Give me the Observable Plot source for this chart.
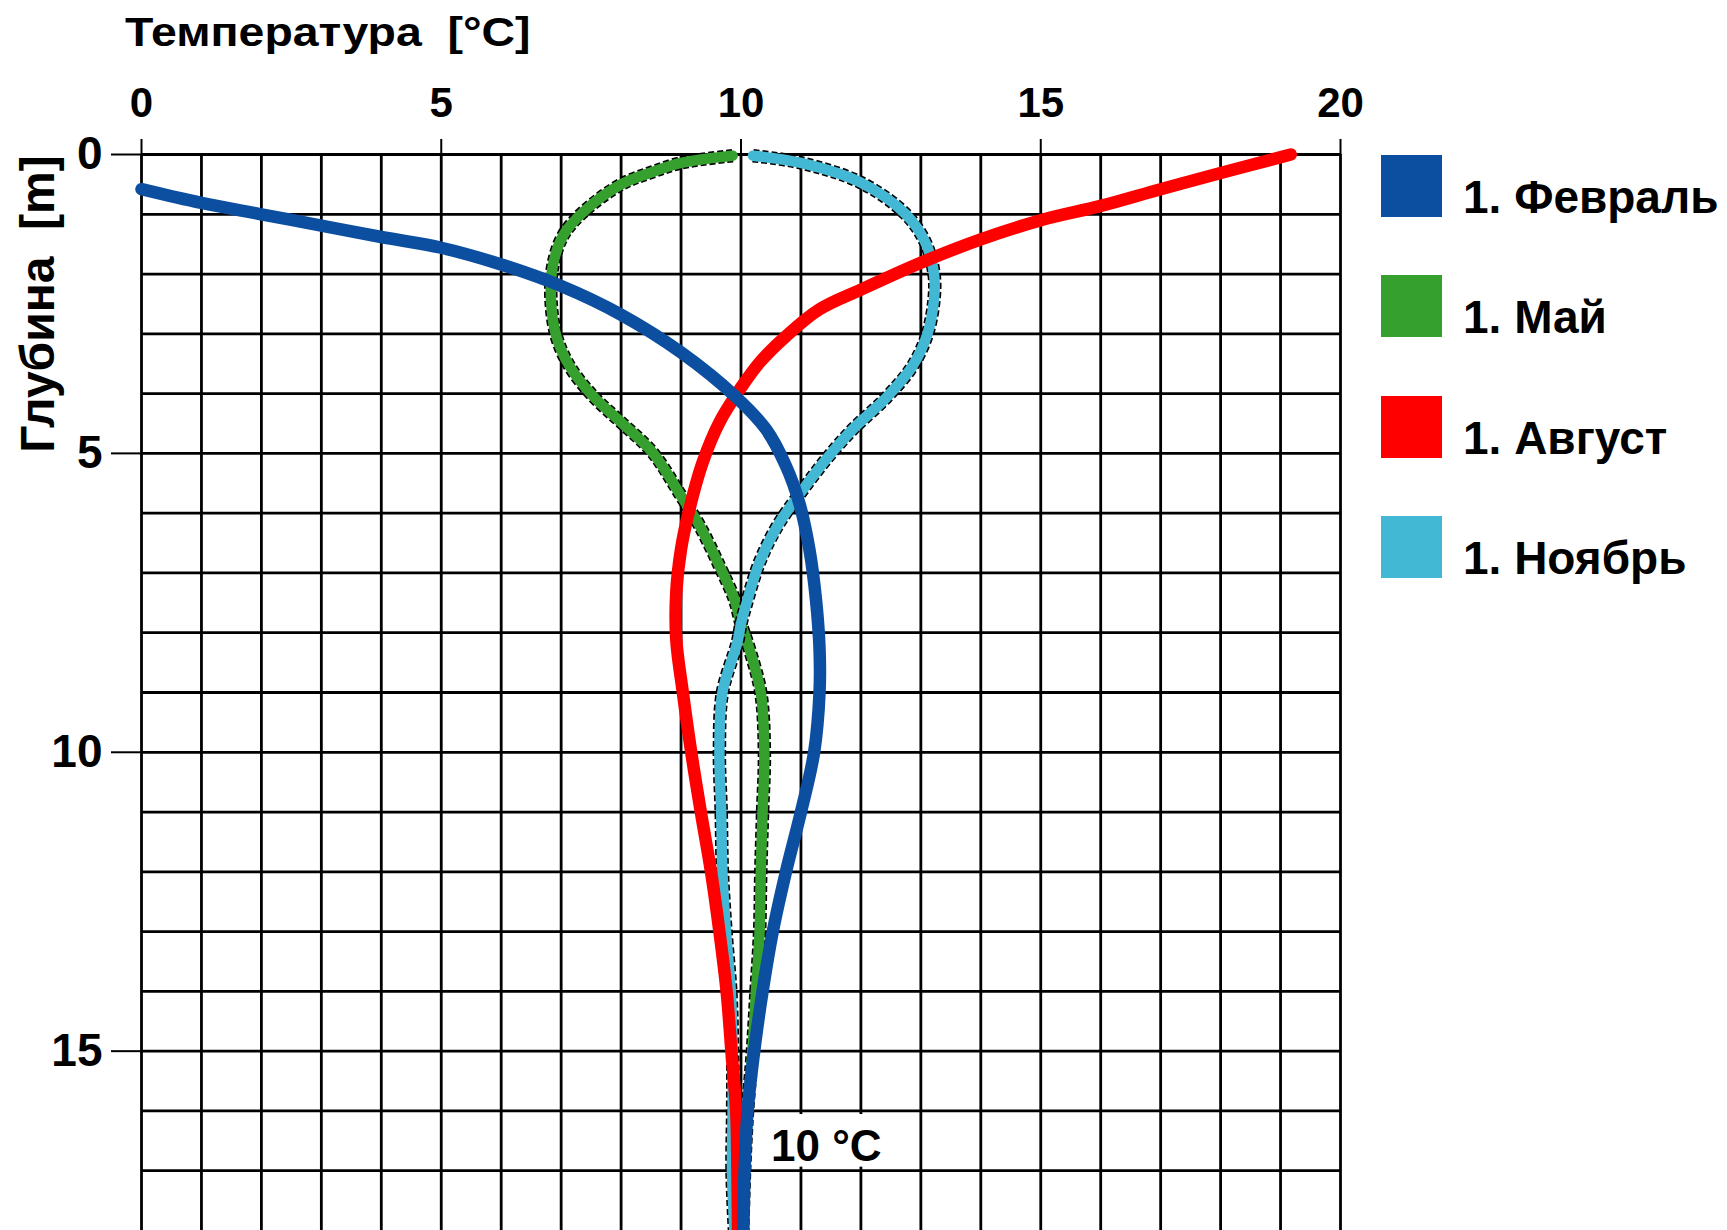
<!DOCTYPE html>
<html>
<head>
<meta charset="utf-8">
<script src="https://cdn.jsdelivr.net/npm/d3@7"></script>
<script src="https://cdn.jsdelivr.net/npm/@observablehq/plot@0.6"></script>
<style>
  html, body { margin: 0; padding: 0; background: #fff; }
  body { width: 1727px; height: 1230px; position: relative; overflow: hidden;
         font-family: "Liberation Sans", Arial, sans-serif; }
  #chart { position: absolute; left: 0; top: 0; }
  .title { position: absolute; left: 125px; top: 12px; font-size: 40px; line-height: 40px;
           font-weight: bold; white-space: pre; transform: scaleX(1.16); transform-origin: left center; }
  .ylabel { position: absolute; left: 38px; top: 304px; font-size: 48px; line-height: 48px;
            font-weight: bold; white-space: pre; transform: translate(-50%, -50%) rotate(-90deg); }
  .legend-row { position: absolute; left: 1381px; width: 340px; height: 62px; }
  .legend-row .sw { position: absolute; left: 0; top: 0; width: 61px; height: 62px; }
  .legend-row .lb { position: absolute; left: 82px; top: 19px; font-size: 46px; line-height: 46px;
                    font-weight: bold; white-space: pre; }
</style>
</head>
<body>
<div id="chart"></div>
<script>
// ---- data ----
const xTitle = "Температура  [°C]";
const yTitle = "Глубина  [m]";
const months = ["1. Февраль", "1. Май", "1. Август", "1. Ноябрь"];
const colors = ["#0c4fa0", "#36a02e", "#ff0000", "#42b8d5"];
const xTicks = [0, 5, 10, 15, 20];
const yTicks = [0, 5, 10, 15];
const noteLabel = "10 °C";

const febDepth = [0.58, 0.81, 1.0, 1.19, 1.38, 1.56, 1.84, 2.2, 2.68, 3.31, 4.06, 4.6, 5.21, 5.82, 6.6, 7.44, 8.27, 9.0, 10.0, 11.0, 12.0, 13.0, 14.0, 15.0, 16.0, 17.0, 18.0];
const febTemp  = [0, 1, 2, 3, 4, 5, 6, 7, 8, 9, 9.92, 10.42, 10.75, 10.97, 11.14, 11.25, 11.31, 11.31, 11.22, 11.0, 10.75, 10.53, 10.36, 10.22, 10.11, 10.06, 10.04];

const mayDepth = [0.02, 0.14, 0.3, 0.5, 0.97, 1.36, 1.87, 2.42, 3.04, 3.54, 4.04, 4.48, 4.99, 5.71, 6.21, 6.88, 7.44, 7.85, 8.27, 9, 10, 11, 12, 13, 14, 15, 16, 17, 18];
const mayTemp  = [9.86, 9.0, 8.5, 8.0, 7.36, 7.03, 6.86, 6.83, 6.92, 7.14, 7.53, 8.0, 8.53, 9.0, 9.31, 9.64, 9.89, 10.0, 10.14, 10.33, 10.39, 10.36, 10.33, 10.31, 10.25, 10.19, 10.11, 10.06, 10.03];

const augDepth = [0, 0.31, 0.58, 0.86, 1.1, 1.42, 1.81, 2.26, 2.59, 3.04, 3.48, 3.9, 4.48, 5.15, 5.93, 6.6, 7.33, 8.11, 9, 10, 11, 12, 13, 14, 15, 16, 17, 18];
const augTemp  = [19.17, 18, 17, 16, 15, 14, 13, 12, 11.31, 10.75, 10.31, 10.0, 9.64, 9.36, 9.14, 9.0, 8.92, 8.92, 9.03, 9.17, 9.33, 9.5, 9.64, 9.76, 9.84, 9.92, 9.94, 9.95];

const novDepth = [0.02, 0.14, 0.47, 1.0, 1.48, 2.0, 2.42, 3.0, 3.54, 4.07, 4.6, 5.1, 5.65, 6.21, 6.82, 7.55, 7.85, 8.16, 9, 10, 11, 12, 13, 14, 15, 16, 17, 18];
const novTemp  = [10.2, 11, 12, 12.75, 13.08, 13.22, 13.22, 13.11, 12.86, 12.42, 11.86, 11.42, 11.0, 10.61, 10.31, 10.08, 10.0, 9.94, 9.69, 9.64, 9.67, 9.69, 9.75, 9.83, 9.86, 9.86, 9.85, 9.89];

// ---- build tables ----
const toRows = (depths, temps, month) => depths.map((d, i) => ({depth: d, temp: temps[i], month}));
const feb = toRows(febDepth, febTemp, months[0]);
const may = toRows(mayDepth, mayTemp, months[1]);
const aug = toRows(augDepth, augTemp, months[2]);
const nov = toRows(novDepth, novTemp, months[3]);

const FONT = "'Liberation Sans', Arial, Helvetica, sans-serif";
const curve = "catmull-rom";

const outlined = (rows, color) => [
  Plot.line(rows, {x: "temp", y: "depth", curve, stroke: "#000", strokeWidth: 13.5, strokeDasharray: "6,3", strokeLinecap: "butt"}),
  Plot.line(rows, {x: "temp", y: "depth", curve, stroke: color, strokeWidth: 10.5})
];

const chart = Plot.plot({
  width: 1727,
  height: 1230,
  marginLeft: 141,
  marginRight: 387,
  marginTop: 154,
  marginBottom: 0,
  style: {fontFamily: FONT, fontWeight: "bold", background: "white", overflow: "visible"},
  x: {domain: [0, 20]},
  y: {domain: [0, 18], reverse: true},
  marks: [
    Plot.gridX({ticks: d3.range(0, 21), stroke: "#000", strokeOpacity: 1, strokeWidth: 2.8}),
    Plot.gridY({ticks: d3.range(0, 18), stroke: "#000", strokeOpacity: 1, strokeWidth: 2.8}),
    Plot.axisX({anchor: "top", ticks: xTicks, tickSize: 16, tickPadding: 22, strokeWidth: 2,
                fontSize: 42, fontWeight: "bold", fill: "#000", label: null, tickFormat: d => String(d)}),
    Plot.axisY({anchor: "left", ticks: yTicks, tickSize: 30, tickPadding: 9, strokeWidth: 2,
                fontSize: 46, fontWeight: "bold", fill: "#000", label: null, tickFormat: d => String(d)}),
    ...outlined(may, colors[1]),
    ...outlined(nov, colors[3]),
    Plot.line(aug, {x: "temp", y: "depth", curve, stroke: colors[2], strokeWidth: 12.5}),
    Plot.line(feb, {x: "temp", y: "depth", curve, stroke: colors[0], strokeWidth: 12.5}),
    Plot.rect([noteLabel], {x1: 10.45, x2: 12.5, y1: 16.06, y2: 16.94, fill: "white"}),
    Plot.text([noteLabel], {x: 10.5, y: 16.6, text: d => d, textAnchor: "start", lineAnchor: "middle",
                            fontSize: 44, fontWeight: "bold", fill: "#000"})
  ]
});
document.getElementById("chart").appendChild(chart);

// ---- title, y label, legend (HTML) ----
const t = document.createElement("div");
t.className = "title"; t.textContent = xTitle; document.body.appendChild(t);
const yl = document.createElement("div");
yl.className = "ylabel"; yl.textContent = yTitle; document.body.appendChild(yl);
months.forEach((m, i) => {
  const row = document.createElement("div");
  row.className = "legend-row";
  row.style.top = (155 + i * 120.3) + "px";
  const sw = document.createElement("div");
  sw.className = "sw"; sw.style.background = colors[i];
  const lb = document.createElement("div");
  lb.className = "lb"; lb.textContent = m;
  row.appendChild(sw); row.appendChild(lb);
  document.body.appendChild(row);
});
</script>
</body>
</html>
